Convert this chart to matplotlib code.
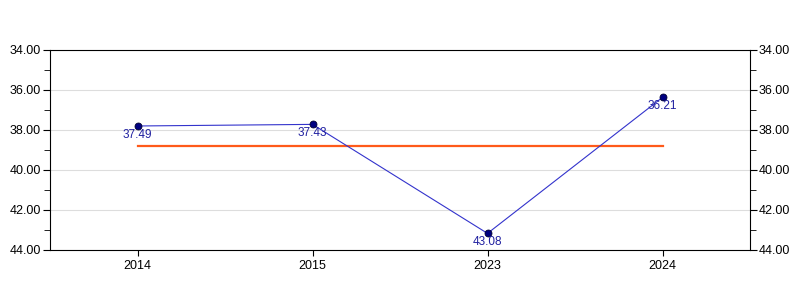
import matplotlib
matplotlib.use("Agg")
import matplotlib.pyplot as plt
from matplotlib.ticker import MultipleLocator, FormatStrFormatter

plt.rcParams['font.family'] = ['Liberation Sans', 'DejaVu Sans']

years = ['2014', '2015', '2023', '2024']
values = [37.80, 37.72, 43.17, 36.37]
value_labels = ['37.49', '37.43', '43.08', '36.21']
ref_level = 38.78

fig = plt.figure(figsize=(8, 3), dpi=100)
ax = fig.add_axes([0.0625, 0.1667, 0.875, 0.6667])

x = list(range(len(years)))
ax.plot(x, values, color='#3333cc', lw=0.8, marker='o', ms=5,
        mfc='#000080', mec='#000030', mew=0.6, zorder=3)
ax.plot([x[0], x[-1]], [ref_level, ref_level], color='#ff5a1a', lw=1.6, zorder=2)

for xi, v, lab in zip(x, values, value_labels):
    ax.annotate(lab, (xi, v), xytext=(0, -2), textcoords='offset points',
                ha='center', va='top', fontsize=8.5, color='#2020a0')

ax.set_xlim(-0.5, 3.5)
ax.set_ylim(44, 34)
ax.set_xticks(x)
ax.set_xticklabels(years)
ax.yaxis.set_major_locator(MultipleLocator(2))
ax.yaxis.set_minor_locator(MultipleLocator(1))
ax.yaxis.set_major_formatter(FormatStrFormatter('%.2f'))
ax.tick_params(axis='y', which='both', left=True, right=True,
               labelleft=True, labelright=True, labelsize=9, pad=1.5)
ax.tick_params(axis='y', which='major', length=5)
ax.tick_params(axis='y', which='minor', length=4)
ax.tick_params(axis='x', length=4, labelsize=9, pad=3)
ax.grid(axis='y', which='major', color='#dddddd', lw=0.8)
ax.set_axisbelow(True)

fig.savefig('out.png')
